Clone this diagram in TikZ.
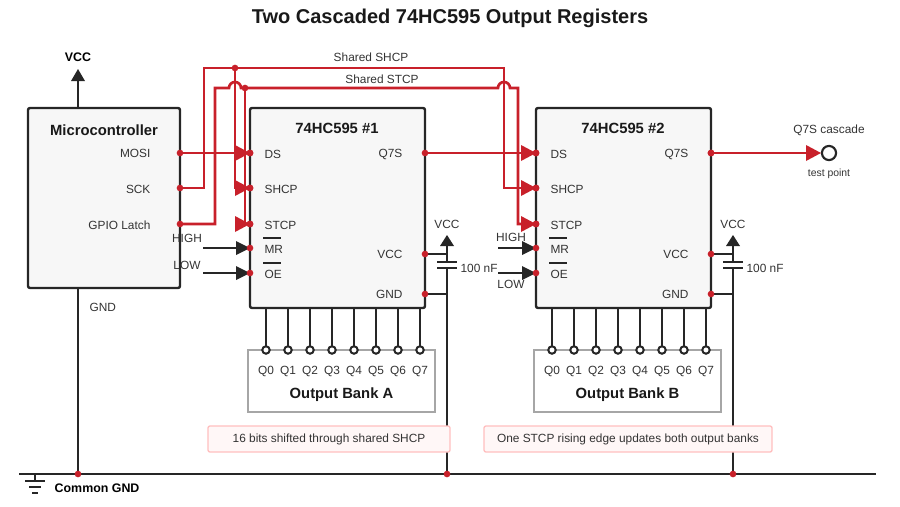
\documentclass[tikz,border=0pt]{standalone}
\usepackage{fontspec}
\setmainfont{Liberation Sans}
\begin{document}
\begin{tikzpicture}[x=0.75pt,y=-0.75pt,
  lab/.style={font=\fontsize{8.9}{10}\selectfont,text=black!80,inner sep=1pt},
  btitle/.style={font=\bfseries\fontsize{11.1}{13}\selectfont,text=black!90},
  chip/.style={draw=black!85,line width=1.8pt,fill=black!3,rounded corners=1.5pt},
  bank/.style={draw=black!35,line width=1.6pt,fill=white},
  note/.style={draw=red!25,line width=1pt,fill=red!3,rounded corners=1.5pt},
  rw/.style={draw=sred,line width=2pt},
  bw/.style={draw=black!85,line width=1.8pt},
]
\definecolor{sred}{HTML}{C8202A}
\useasboundingbox (0,0) rectangle (900,507);
\node[font=\bfseries\fontsize{15}{17}\selectfont,text=black!90] (title) at (450,18) {Two Cascaded 74HC595 Output Registers};

% ground bus
\coordinate (gl) at (19,474); \coordinate (gr) at (876,474);
\draw[bw] (gl) -- (gr);
\draw[bw] (35,474) -- (35,481) (25,481) -- (45,481) (29,487) -- (41,487) (32,493) -- (38,493);
\node[font=\bfseries\fontsize{9.3}{10}\selectfont,anchor=west] (cg) at (50,488) {Common GND};

% microcontroller
\draw[bw] (78,288) -- (78,474);
\draw[bw] (78,108) -- (78,80);
\fill[black!85] (78,69) -- (71,81) -- (85,81) -- cycle;
\node[font=\bfseries\fontsize{9.3}{10}\selectfont] (vcc0) at (78,57) {VCC};
\node[chip,minimum width=152*0.75pt,minimum height=180*0.75pt] (mcu) at (104,198) {};
\node[btitle] (mcut) at (104,130) {Microcontroller};
\node[lab,anchor=east] at (152,153) {MOSI};
\node[lab,anchor=east] at (152,189) {SCK};
\node[lab,anchor=east] at (152,225) {GPIO Latch};
\node[lab,anchor=west] at (88,307) {GND};
\fill[sred] (78,474) circle (2.5pt);

% chips
\foreach \c/\ox/\t in {1/0/74HC595 \#1,2/286/74HC595 \#2}{
  \begin{scope}[xshift=\ox*0.75pt]
  \node[chip,minimum width=175*0.75pt,minimum height=200*0.75pt] (chip\c) at (337.5,208) {};
  \node[btitle] at (337,128) {\t};
  \node[lab,anchor=west] at (263,154) {DS};
  \node[lab,anchor=west] at (263,189) {SHCP};
  \node[lab,anchor=west] at (263,225) {STCP};
  \node[lab,anchor=west] at (263,249) {MR};
  \node[lab,anchor=west] at (263,274) {OE};
  \draw[black!85,line width=1.5pt] (263,238) -- (281,238) (263,263) -- (281,263);
  \node[lab,anchor=east] at (404,154) {Q7S};
  \node[lab,anchor=east] at (404,254) {VCC};
  \node[lab,anchor=east] at (404,294) {GND};
  \fill[black!85] (250,248) -- (236,241) -- (236,255) -- cycle;
  \fill[black!85] (250,273) -- (236,266) -- (236,280) -- cycle;
  \node[bank,minimum width=187*0.75pt,minimum height=62*0.75pt] at (341.5,381) {};
  \foreach \i in {0,...,7}{
    \draw[bw] (266+22*\i,308) -- (266+22*\i,346);
    \draw[black!85,line width=1.5pt,fill=white] (266+22*\i,350) circle (2.8pt);
    \node[lab] at (266+22*\i,371) {Q\i};
  }
  \draw[bw] (425,254) -- (447,254) (425,294) -- (447,294);
  \draw[bw] (447,245) -- (447,262) (447,268) -- (447,474);
  \draw[bw] (437,262) -- (457,262) (437,268) -- (457,268);
  \fill[black!85] (447,235) -- (440,246) -- (454,246) -- cycle;
  \node[lab] at (447,224) {VCC};
  \node[lab,anchor=west] at (459,268) {100 nF};
  \fill[sred] (447,474) circle (2.5pt);
  \foreach \y in {153,188,224,248,273}{\fill[sred] (250,\y) circle (2.5pt);}
  \foreach \y in {153,254,294}{\fill[sred] (425,\y) circle (2.5pt);}
  \end{scope}
}
\node[btitle] at (341.5,395) {Output Bank A};
\node[btitle] at (627.5,395) {Output Bank B};
\draw[bw] (203,248) -- (238,248) (203,273) -- (238,273);
\draw[bw] (498,248) -- (524,248) (498,273) -- (524,273);
\node[lab] at (187,238) {HIGH};
\node[lab] at (187,265) {LOW};
\node[lab] at (511,237) {HIGH};
\node[lab] at (511,284) {LOW};

% red wiring
\draw[rw] (180,153) -- (240,153);
\draw[rw] (180,188) -- (204,188) -- (204,68) -- (504,68) -- (504,188) -- (530,188);
\draw[rw] (235,68) -- (235,188) -- (240,188);
\draw[rw] (180,224) -- (215,224) -- (215,88) -- (229,88) arc (180:360:6) -- (498,88) arc (180:360:6) -- (518,88) -- (518,224) -- (530,224);
\draw[rw] (245,88) -- (245,224);
\draw[rw] (425,153) -- (530,153);
\draw[rw] (711,153) -- (812,153);
\fill[sred] (235,68) circle (2.5pt);
\fill[sred] (245,88) circle (2.5pt);
\foreach \y in {153,188,224}{
  \fill[sred] (180,\y) circle (2.5pt);
  \fill[sred] (250,\y) -- (235,\y-8) -- (235,\y+8) -- cycle;
  \fill[sred] (536,\y) -- (521,\y-8) -- (521,\y+8) -- cycle;
  \fill[sred] (250,\y) circle (2.5pt);
  \fill[sred] (536,\y) circle (2.5pt);
}
\fill[sred] (821,153) -- (806,145) -- (806,161) -- cycle;
\fill[sred] (711,153) circle (2.5pt);
\draw[black!85,line width=1.6pt,fill=white] (829,153) circle (5.3pt);
\node[lab] at (371,57) {Shared SHCP};
\node[lab] at (382,79) {Shared STCP};
\node[lab] at (829,130) {Q7S cascade};
\node[lab,font=\fontsize{7.8}{9}\selectfont] at (829,174) {test point};

% notes
\node[note,minimum width=242*0.75pt,minimum height=26*0.75pt,lab] (na) at (329,439) {16 bits shifted through shared SHCP};
\node[note,minimum width=288*0.75pt,minimum height=26*0.75pt,lab] (nb) at (628,439) {One STCP rising edge updates both output banks};
\end{tikzpicture}
\end{document}
